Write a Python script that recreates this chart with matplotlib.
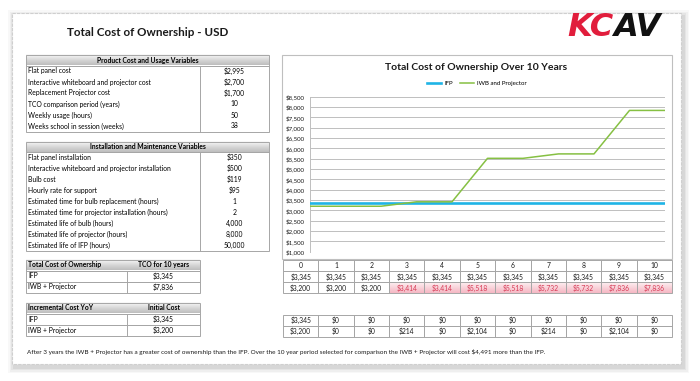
import numpy as np
import matplotlib
matplotlib.use("Agg")
import matplotlib.pyplot as plt
from matplotlib.patches import Rectangle
from matplotlib.colors import LinearSegmentedColormap
from matplotlib.ticker import FuncFormatter, MultipleLocator

plt.rcParams["font.family"] = ["Lato", "DejaVu Sans"]

# --- data
product_labels = [
    "Flat panel cost",
    "Interactive whiteboard and projector cost",
    "Replacement Projector cost",
    "TCO comparison period (years)",
    "Weekly usage (hours)",
    "Weeks school in session (weeks)",
]
product_values = ["$2,995", "$2,700", "$1,700", "10", "50", "38"]

install_labels = [
    "Flat panel installation",
    "Interactive whiteboard and projector installation",
    "Bulb cost",
    "Hourly rate for support",
    "Estimated time for bulb replacement (hours)",
    "Estimated time for projector installation (hours)",
    "Estimated life of bulb (hours)",
    "Estimated life of projector (hours)",
    "Estimated life of IFP (hours)",
]
install_values = ["$350", "$500", "$119", "$95", "1", "2", "4,000", "8,000", "50,000"]

series_names = ["IFP", "IWB + Projector"]
years = [0, 1, 2, 3, 4, 5, 6, 7, 8, 9, 10]
ifp_cum = [3345, 3345, 3345, 3345, 3345, 3345, 3345, 3345, 3345, 3345, 3345]
iwb_cum = [3200, 3200, 3200, 3414, 3414, 5518, 5518, 5732, 5732, 7836, 7836]
ifp_inc = [3345, 0, 0, 0, 0, 0, 0, 0, 0, 0, 0]
iwb_inc = [3200, 0, 0, 214, 0, 2104, 0, 214, 0, 2104, 0]

footer = ("After 3 years the IWB + Projector has a greater cost of ownership than the IFP. "
          "Over the 10 year period selected for comparison the IWB + Projector will cost "
          "$4,491 more than the IFP.")

W, H = 700, 381
BORDER = "#a6a6a6"
FS = 4.9

fig = plt.figure(figsize=(W / 100, H / 100), dpi=100)
fig.patch.set_facecolor("white")
bg = fig.add_axes([0, 0, 1, 1])
bg.set_axis_off()

head_cmap = LinearSegmentedColormap.from_list("head", ["#fafafa", "#d9d9d9", "#bdbdbd"])
pink_cmap = LinearSegmentedColormap.from_list("pink", ["#fdf0f2", "#f9d3da", "#f5b8c4"])
grad = np.linspace(0, 1, 50).reshape(-1, 1)


def money(v):
    return f"${v:,}"


def gradient(x0, x1, y0, y1, cmap):
    bg.imshow(grad, extent=[x0, x1, y1, y0], cmap=cmap, aspect="auto", zorder=2)


def box(x0, x1, y0, y1, lw=0.7, color=BORDER, fc="none", z=3):
    bg.add_patch(Rectangle((x0, y0), x1 - x0, y1 - y0, fill=fc != "none",
                           facecolor=fc, edgecolor=color, lw=lw, zorder=z))


# --- paper with shadow
for i, a in enumerate([0.05, 0.07, 0.09, 0.12]):
    d = 6 - i * 1.5
    bg.add_patch(Rectangle((12 - d + 2, 13 - d + 3), 669 + 2 * d, 351 + 2 * d,
                           facecolor="#808080", alpha=a, lw=0, zorder=0))
bg.add_patch(Rectangle((12, 13), 669, 351, facecolor="white", edgecolor="#cfcfcf",
                       lw=0.8, ls=(0, (3, 1)), zorder=1))

bg.text(67, 33, "Total Cost of Ownership - USD", fontsize=8.4, fontweight="bold",
        va="center", ha="left", color="#1a1a1a", zorder=4)

# logo
bg.text(614, 28, "KC", fontsize=23, fontweight="bold", style="italic",
        family="DejaVu Sans", color="#e11d3c", ha="right", va="center", zorder=4)
bg.text(613, 28, "AV", fontsize=23, fontweight="bold", style="italic",
        family="DejaVu Sans", color="#111111", ha="left", va="center", zorder=4)


# --- left variable tables
def var_table(title, labels, values, top, head_h, row_h):
    x0, xd, x1 = 26, 200, 269
    gradient(x0, x1, top, top + head_h, head_cmap)
    box(x0, x1, top, top + head_h)
    bg.text((x0 + x1) / 2, top + head_h / 2, title, fontsize=FS, fontweight="bold",
            ha="center", va="center", zorder=4)
    y = top + head_h
    for lab, val in zip(labels, values):
        bg.text(x0 + 2, y + row_h / 2, lab, fontsize=FS, ha="left", va="center", zorder=4)
        bg.text((xd + x1) / 2, y + row_h / 2, val, fontsize=FS, ha="center", va="center", zorder=4)
        y += row_h
    box(x0, x1, top + head_h, y)
    bg.plot([xd, xd], [top + head_h, y], color=BORDER, lw=0.7, zorder=3)


var_table("Product Cost and Usage Variables", product_labels, product_values, 55, 10.5, 11)
var_table("Installation and Maintenance Variables", install_labels, install_values, 141.5, 10.5, 11)


# --- summary tables
def small_table(h1, h2, values, top):
    x0, xd, x1 = 26, 127, 200
    rh = 11
    gradient(x0, x1, top, top + rh, head_cmap)
    box(x0, x1, top, top + rh)
    bg.text(x0 + 2, top + rh / 2, h1, fontsize=FS, fontweight="bold", ha="left", va="center", zorder=4)
    bg.text((xd + x1) / 2, top + rh / 2, h2, fontsize=FS, fontweight="bold", ha="center", va="center", zorder=4)
    for i, (name, v) in enumerate(zip(series_names, values)):
        y = top + rh * (i + 1)
        box(x0, x1, y, y + rh)
        bg.text(x0 + 2, y + rh / 2, name, fontsize=FS, ha="left", va="center", zorder=4)
        bg.text((xd + x1) / 2, y + rh / 2, money(v), fontsize=FS, ha="center", va="center", zorder=4)
    bg.plot([xd, xd], [top + rh, top + 3 * rh], color=BORDER, lw=0.7, zorder=3)


small_table("Total Cost of Ownership", "TCO for 10 years", [ifp_cum[-1], iwb_cum[-1]], 259.5)
small_table("Incremental Cost YoY", "Initial Cost", [ifp_inc[0], iwb_inc[0]], 302.5)

# --- grids under the chart
cx0, cx1 = 283, 672
cw = (cx1 - cx0) / len(years)


def grid_rows(rows, top, rh=11, highlight=None):
    for r, row in enumerate(rows):
        y = top + r * rh
        for c, txt in enumerate(row):
            x = cx0 + c * cw
            color = "#1a1a1a"
            if highlight is not None and highlight[r][c]:
                gradient(x, x + cw, y, y + rh, pink_cmap)
                color = "#d63a55"
            box(x, x + cw, y, y + rh)
            bg.text(x + cw / 2, y + rh / 2 + 0.3, txt, fontsize=FS, ha="center", va="center",
                    color=color, zorder=4)


over = [b > a for a, b in zip(ifp_cum, iwb_cum)]
grid_rows([[str(y) for y in years],
           [money(v) for v in ifp_cum],
           [money(v) for v in iwb_cum]], 260,
          highlight=[[False] * 11, [False] * 11, over])
grid_rows([[money(v) for v in ifp_inc],
           [money(v) for v in iwb_inc]], 314.5)

bg.text(27, 352, footer, fontsize=4.6, ha="left", va="center", color="#1a1a1a", zorder=4)

# --- chart frame
box(282, 672, 55, 259, lw=0.8, color="#bfbfbf", fc="white", z=1.5)
bg.text(476, 68, "Total Cost of Ownership Over 10 Years", fontsize=7.5, fontweight="bold",
        ha="center", va="center", color="#1a1a1a", zorder=4)

bg.set_xlim(0, W)
bg.set_ylim(H, 0)

# --- line chart
ax = fig.add_axes([310 / W, (H - 251.7) / H, 355 / W, 155 / H])
ax.patch.set_alpha(0)
ax.plot(years, ifp_cum, color="#1fb4e6", lw=1.9, label="IFP", zorder=3)
ax.plot(years, iwb_cum, color="#86c043", lw=1.1, label="IWB and Projector", zorder=4)
ax.set_xlim(0, 10)
ax.set_ylim(1000, 8500)
ax.yaxis.set_major_locator(MultipleLocator(500))
ax.yaxis.set_major_formatter(FuncFormatter(lambda v, p: f"${v:,.0f}"))
ax.grid(axis="y", color="#bfbfbf", lw=0.7)
ax.set_axisbelow(True)
ax.set_xticks([])
ax.tick_params(axis="y", length=0, labelsize=4.4, pad=4, labelcolor="#1a1a1a")
for s in ["top", "right", "bottom"]:
    ax.spines[s].set_visible(False)
ax.spines["left"].set_color("#bfbfbf")
ax.spines["left"].set_linewidth(0.7)
ax.legend(loc="center", bbox_to_anchor=(477 / W, 1 - 83.5 / H), bbox_transform=fig.transFigure,
          ncol=2, fontsize=4.4, frameon=False, handlelength=2.2, columnspacing=1.2,
          handletextpad=0.6)

fig.savefig("out.png", dpi=100, facecolor="white")
